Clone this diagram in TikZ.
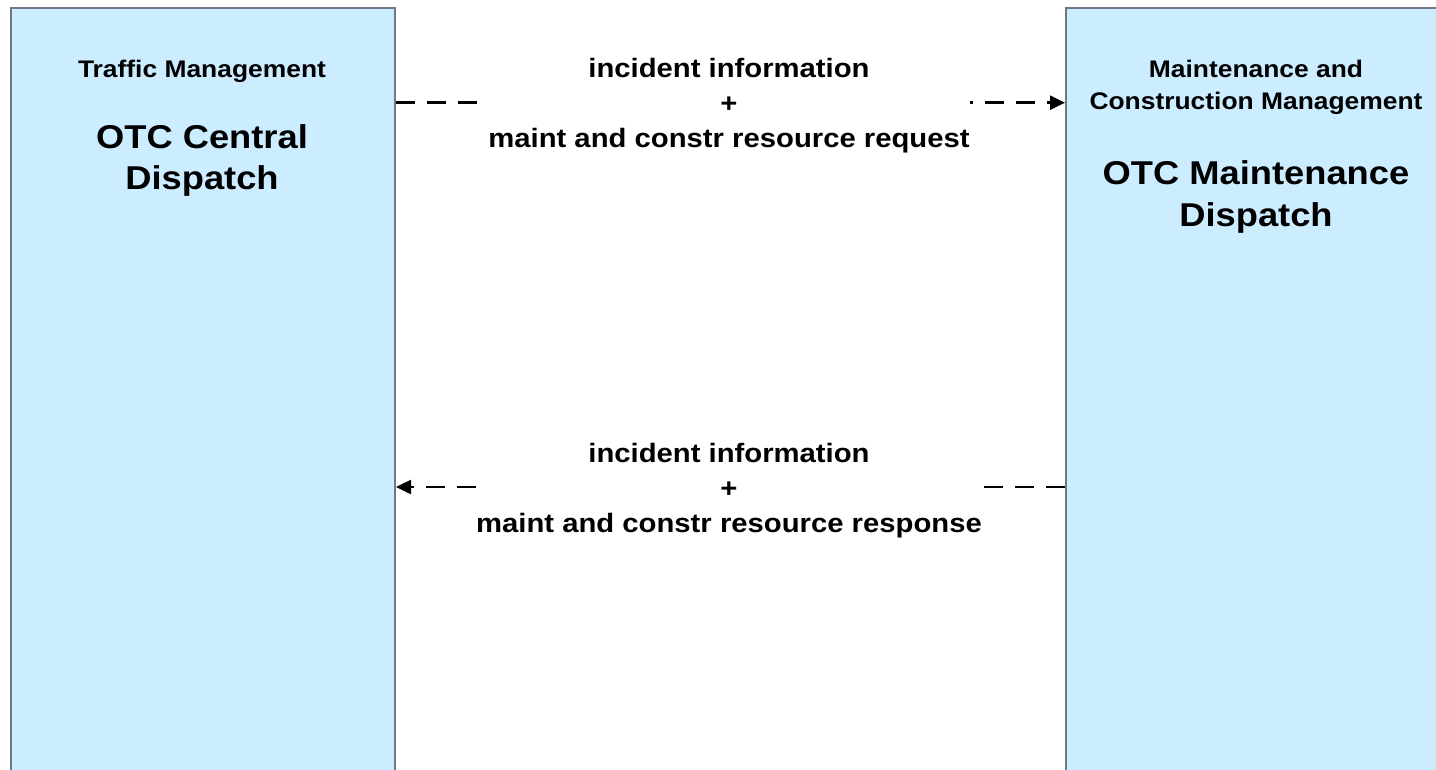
\documentclass[tikz,border=0pt]{standalone}
\usepackage{fontspec}
\setmainfont{Liberation Sans}[FakeStretch=1.1]
\usetikzlibrary{arrows.meta}
\definecolor{boxfill}{RGB}{204,236,255}
\definecolor{boxline}{RGB}{110,120,135}
\tikzset{
  sysbox/.style={draw=boxline, line width=2pt, fill=boxfill, inner sep=0pt},
  subtitle/.style={anchor=base, inner sep=0pt, font=\fontsize{24}{30}\selectfont\bfseries},
  maintitle/.style={anchor=base, inner sep=0pt, font=\fontsize{33}{41}\selectfont\bfseries},
  flowlabel/.style={fill=white, inner xsep=0pt, inner ysep=1pt, align=center,
    font=\fontsize{26.6}{35}\selectfont\bfseries},
  flow/.style={line width=2.5pt, dash pattern=on 19pt off 12pt,
    -{Triangle[length=15pt,width=14pt]}}
}
\begin{document}
\begin{tikzpicture}[x=1pt,y=-1pt]
\useasboundingbox (0,0) rectangle (1436,769);
\clip (0,0) rectangle (1436,769);
% boxes
\node[sysbox, minimum width=384pt, minimum height=800pt, anchor=north west] (L) at (10,7) {};
\node[sysbox, minimum width=390pt, minimum height=800pt, anchor=north west] (R) at (1065,7) {};
% left box text
\node[subtitle] (Lsub) at (202,77) {Traffic Management};
\node[maintitle] (Lt1) at (202,148) {OTC Central};
\node[maintitle] (Lt2) at (202,189) {Dispatch};
% right box text
\node[subtitle] (Rsub1) at (1256,77) {Maintenance and};
\node[subtitle] (Rsub2) at (1256,109) {Construction Management};
\node[maintitle] (Rt1) at (1256,184) {OTC Maintenance};
\node[maintitle] (Rt2) at (1256,226) {Dispatch};
% flows
\coordinate (y1) at (0,102.7);
\coordinate (y2) at (0,487);
\draw[flow] (L.east |- y1) -- (R.west |- y1);
\draw[flow] (R.west |- y2) -- (L.east |- y2);
\node[flowlabel] (f1) at (729,105.5) {incident information\\+\\maint and constr resource request};
\node[flowlabel] (f2) at (729,490.5) {incident information\\+\\maint and constr resource response};
\end{tikzpicture}
\end{document}
